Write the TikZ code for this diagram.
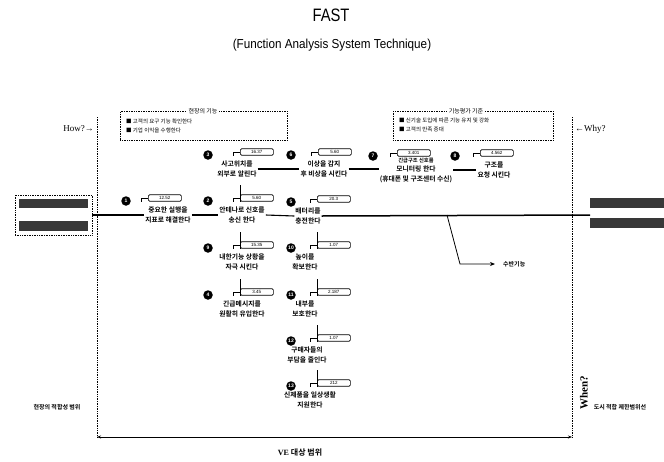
\documentclass[tikz,border=0pt]{standalone}
\usepackage{fontspec}
\setmainfont{Liberation Serif}
\newfontfamily\kr{Noto Sans CJK KR}[BoldFont={Noto Sans CJK KR Bold}]
\newfontfamily\hel{Liberation Sans}
\usetikzlibrary{calc,arrows.meta}
\tikzset{
  numc/.style={circle,fill=black,minimum size=9.5pt,inner sep=0pt,text=white,font=\hel\bfseries\fontsize{5}{5}\selectfont},
  valbox/.style={draw,rounded corners=1.3pt,minimum width=33pt,minimum height=6.5pt,inner sep=0pt,fill=white,line width=0.7pt,font=\hel\fontsize{4.5}{4.5}\selectfont},
  fntext/.style={font=\kr\bfseries\fontsize{6.8}{9.5}\selectfont,align=center,inner sep=1pt},
  seg/.style={line width=1.1pt},
  mainln/.style={line width=1.5pt},
  brk/.style={line width=0.7pt},
  dotln/.style={densely dotted,line width=0.7pt},
  dotbox/.style={draw,densely dotted,line width=0.7pt,inner sep=0pt},
  bar/.style={fill=black!78,draw=none},
  bullet/.style={anchor=west,font=\kr\fontsize{5.5}{5.5}\selectfont,inner sep=0pt},
  smalllab/.style={font=\kr\bfseries\fontsize{6}{6}\selectfont,inner sep=0pt}
}
\newcommand\FastFn[8]{%
  \node[numc] (c#1) at (#2,#3) {#4};
  \node[valbox,anchor=west] (b#1) at (#6,#3-3) {#5};
  \draw[brk] (b#1.west) -- ++(-7,0) -- ++(0,4);
  \node[fntext] (t#1) at (#7,#3+14) {#8};
}
\begin{document}
\begin{tikzpicture}[x=1pt,y=-1pt]
\useasboundingbox (0,0) rectangle (664,461);
% titles
\node[font=\hel\fontsize{18}{18}\selectfont,xscale=0.82] (ttl) at (331,15) {FAST};
\node[font=\hel\fontsize{13}{13}\selectfont,xscale=0.9] (sub) at (332,45) {(Function Analysis System Technique)};
% how / why
\node[anchor=east,font=\fontsize{9}{9}\selectfont,inner sep=1pt] (how) at (95,129) {How?→};
\node[anchor=west,font=\fontsize{9}{9}\selectfont,inner sep=1pt] (why) at (574,129) {←Why?};
\draw[dotln] (97,117) -- (97,437);
\draw[dotln] (572,117) -- (572,437);
% top boxes
\node[dotbox,minimum width=167,minimum height=29,anchor=north west] (tlbox) at (120,111) {};
\node[fill=white,inner sep=2pt,font=\kr\fontsize{6}{6}\selectfont] (tltitle) at (203,111) {현장의 기능};
\node[bullet] (tlb1) at (126,121) {■ 고객의 요구 기능 확인한다};
\node[bullet] (tlb2) at (126,130) {■ 기업 이익을 수행한다};
\node[dotbox,minimum width=160,minimum height=29,anchor=north west] (trbox) at (393,111) {};
\node[fill=white,inner sep=2pt,font=\kr\fontsize{6}{6}\selectfont] (trtitle) at (466,111) {기능평가 기준};
\node[bullet] (trb1) at (399,120) {■ 신기술 도입에 따른 기능 유지 및 강화};
\node[bullet] (trb2) at (399,129) {■ 고객의 만족 증대};
% left and right blocks
\node[dotbox,minimum width=77,minimum height=40] (lbox) at (53.5,215) {};
\fill[bar] (19,199) rectangle (88,208);
\fill[bar] (19,221) rectangle (88,231);
\fill[bar] (590,198) rectangle (664,208);
\fill[bar] (590,218) rectangle (664,228);
\coordinate (rin) at (590,215);
% functions
\FastFn{1}{126}{201}{1}{12.52}{148}{168}{중요한 실행을\\지표로 해결한다}
\FastFn{2}{208}{201}{2}{5.60}{240}{242}{안테나로 신호를\\송신 한다}
\FastFn{3}{208}{155}{3}{16.37}{240}{237}{사고위치를\\외부로 알린다}
\FastFn{9}{208}{248}{9}{15.35}{240}{242}{내한기능 상황을\\자극 시킨다}
\FastFn{4}{208}{295}{4}{3.45}{240}{242}{긴급메시지를\\원활히 유입한다}
\FastFn{5}{291}{202}{5}{20.3}{317}{308}{배터리를\\충전한다}
\FastFn{6}{291}{155}{6}{5.60}{318}{324}{이상을 감지\\후 비상을 시킨다}
\FastFn{7}{373}{156}{7}{3.401}{397}{416}{\fontsize{5.3}{6}\selectfont 긴급구조 신호를\\모니터링 한다\\(휴대폰 및 구조센터 수신)}
\FastFn{8}{455}{156}{8}{4.562}{480}{494}{구조를\\요청 시킨다}
\FastFn{10}{291}{248}{10}{1.07}{317}{305}{높이를\\확보한다}
\FastFn{11}{291}{295}{11}{2.187}{317}{305}{내부를\\보호한다}
\FastFn{12}{291}{341}{12}{1.07}{317}{307}{구매자들의\\부담을 줄인다}
\FastFn{13}{291}{386}{13}{212}{317}{310}{신제품을 일상생활\\지원한다}
% vertical stems above boxes
\foreach \n in {2,9,4,10,11,12,13}{\draw[brk] (b\n.south west) -- ++(0,-17);}
% connectors
\draw[mainln] (lbox.east) -- (t1.west);
\draw[seg] (t1.east) -- (t2.west);
\draw[seg] (t2.east) -- (t5.west);
\draw[mainln] (t5.east) -- (rin);
\draw[seg] (t3.east) -- (t3.east -| t6.west);
\draw[seg] (t6.east) -- (t6.east -| t7.west);
\draw[seg] (t7.east) -- (t7.east -| t8.west);
% branch
\coordinate (br) at (447,215);
\coordinate (bk) at (460,264);
\node[smalllab,anchor=west] (brl) at (503,264) {수반기능};
\draw[line width=0.8pt,-{Stealth[length=5pt,width=4pt]}] (br) -- (bk) -- ([xshift=-8pt]brl.west);
% bottom
\node[font=\fontsize{11}{11}\selectfont,rotate=90] (when) at (584,393) {\textbf{When?}};
\node[smalllab] (ll) at (57,407) {현장의 적합성 범위};
\node[smalllab] (rl) at (620,407) {도시 적합 제한범위선};
\coordinate (vl) at (97,437);
\coordinate (vr) at (572,437);
\draw[line width=0.9pt,{Stealth[length=4pt,width=3pt]}-{Stealth[length=4pt,width=3pt]}] (vl) -- (vr);
\node[font=\fontsize{8}{8}\selectfont] (ve) at (300,452) {\textbf{VE} {\kr\bfseries 대상 범위}};
\end{tikzpicture}
\end{document}
